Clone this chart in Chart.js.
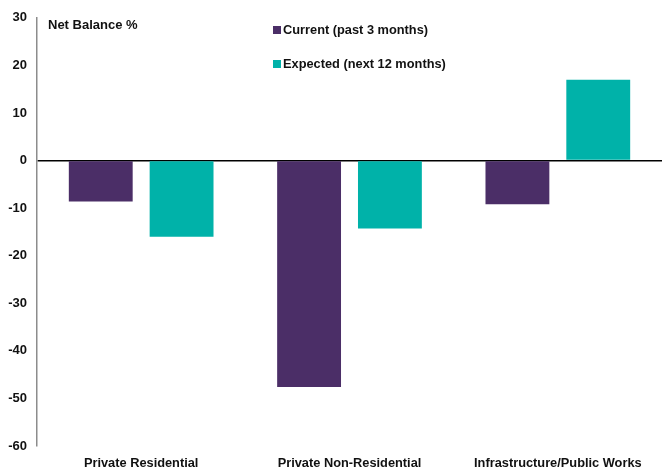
<!DOCTYPE html>
<html lang="en">
<head>
  <meta charset="UTF-8" />
  <title>Net Balance %</title>
  <script src="https://cdn.jsdelivr.net/npm/chart.js"></script>
  <style>
    body {
      margin: 0;
      padding: 0;
      background: #ffffff;
    }
    .wrap {
      width: 662px;
      height: 470px;
      position: relative;
    }
  </style>
</head>
<body>
  <div class="wrap">
    <canvas id="barChart"></canvas>
  </div>

  <script>
    const categories = ['Private Residential', 'Private Non-Residential', 'Infrastructure/Public Works'];
    const currentValues = [-8.6, -47.6, -9.2];
    const expectedValues = [-16.0, -14.3, 17.0];
    const seriesLabels = ['Current (past 3 months)', 'Expected (next 12 months)'];
    const yTicks = [30, 20, 10, 0, -10, -20, -30, -40, -50, -60];

    const purple = '#4b2e67';
    const teal = '#00b2a9';
    const textColor = '#111111';
    const fontFamily = '"Liberation Sans", Arial, sans-serif';

    // axis caption and the two-row legend inside the plot
    const annotations = {
      id: 'annotations',
      afterDraw(chart) {
        const ctx = chart.ctx;
        ctx.save();
        ctx.fillStyle = textColor;
        ctx.textBaseline = 'middle';
        ctx.textAlign = 'left';
        ctx.font = 'bold 13px ' + fontFamily;
        ctx.fillText('Net Balance %', 48, 25);

        ctx.font = 'bold 12.8px ' + fontFamily;
        const rows = [30, 64];
        chart.data.datasets.forEach((ds, i) => {
          ctx.fillStyle = ds.backgroundColor;
          ctx.fillRect(273, rows[i] - 4, 8, 8);
          ctx.fillStyle = textColor;
          ctx.fillText(ds.label, 283, rows[i]);
        });
        ctx.restore();
      }
    };

    new Chart(document.getElementById('barChart'), {
      type: 'bar',
      data: {
        labels: categories,
        datasets: [
          { label: seriesLabels[0], data: currentValues, backgroundColor: purple },
          { label: seriesLabels[1], data: expectedValues, backgroundColor: teal }
        ]
      },
      options: {
        responsive: true,
        maintainAspectRatio: false,
        animation: false,
        layout: { padding: { top: 17, right: 0, left: 0, bottom: 0 } },
        datasets: {
          bar: { categoryPercentage: 0.776, barPercentage: 0.79 }
        },
        plugins: {
          legend: { display: false },
          tooltip: { enabled: false }
        },
        scales: {
          x: {
            grid: { display: false, drawTicks: false },
            border: { display: false },
            ticks: {
              color: textColor,
              padding: 10,
              maxRotation: 0,
              font: { family: fontFamily, size: 12.8, weight: 'bold' }
            },
            afterFit(scale) { scale.height = 24; }
          },
          y: {
            min: -60,
            max: 30,
            afterBuildTicks(scale) {
              scale.ticks = yTicks.map(v => ({ value: v }));
            },
            grid: {
              drawTicks: false,
              lineWidth: 1.5,
              color: ctx => (ctx.tick && ctx.tick.value === 0 ? '#000000' : 'rgba(0,0,0,0)')
            },
            border: { display: true, color: '#8c8c8c', width: 1.5 },
            ticks: {
              color: textColor,
              padding: 10,
              font: { family: fontFamily, size: 13, weight: 'bold' }
            },
            afterFit(scale) { scale.width = 37; }
          }
        }
      },
      plugins: [annotations]
    });
  </script>
</body>
</html>
